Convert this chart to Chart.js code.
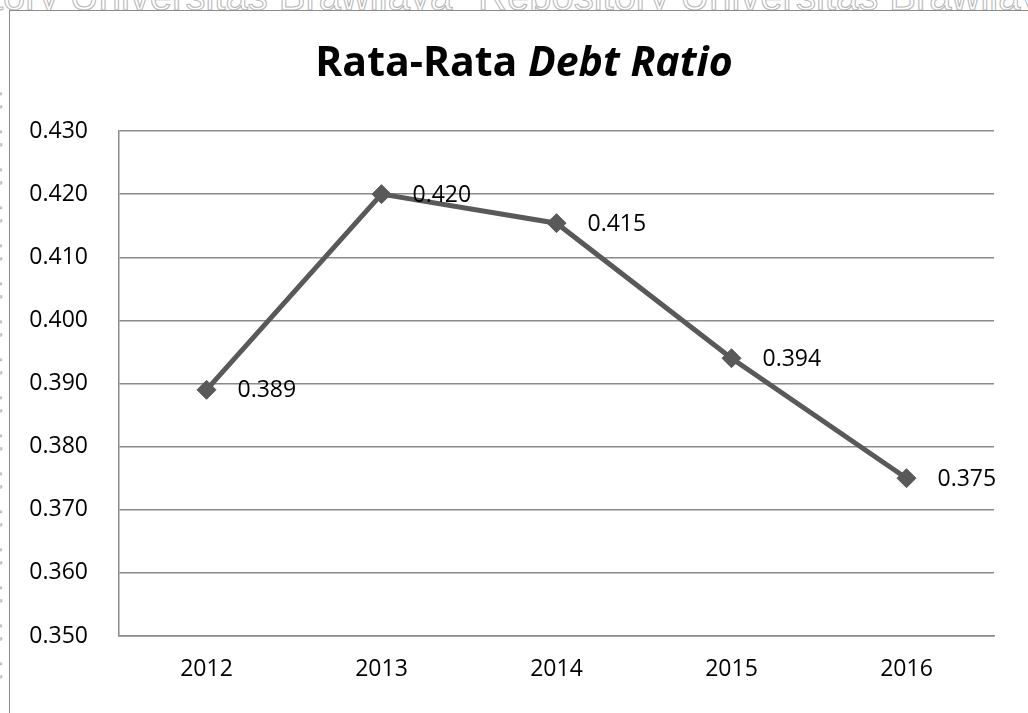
<!DOCTYPE html>
<html>
<head>
<meta charset="utf-8">
<script src="https://cdn.jsdelivr.net/npm/chart.js@4"></script>
<style>
  html, body { margin: 0; padding: 0; background: #fff; overflow: hidden; }
  body { width: 1028px; height: 713px; position: relative; }
  .wm {
    position: absolute; font-family: "Liberation Sans", Arial, sans-serif;
    font-size: 40px; line-height: 1; white-space: pre;
    color: transparent; -webkit-text-stroke: 1px #b4b4b4;
  }
  .frame {
    position: absolute; left: 9px; top: 10px; width: 1040px; height: 720px;
    border-left: 1.5px solid #8c8c8c; border-top: 1.5px solid #8c8c8c;
    background: #fff; z-index: 2;
  }
  .title {
    position: absolute; left: 0; top: 21px; width: 1028px; text-align: center;
    font-family: "Open Sans", sans-serif; font-weight: bold; font-size: 41px;
    color: #000; z-index: 3; pointer-events: none;
  }
  .box { position: absolute; left: 1px; top: 1px; width: 1028px; height: 702px; }
</style>
</head>
<body>
<div class="wm" style="left:-8px; top:-24px;">tory Universitas Brawijaya</div>
<div class="wm" style="left:478px; top:-24px;">Repository Universitas Brawijaya</div>
<div class="wm" style="left:-6px; top:80px; font-size:28px; line-height:38px;">t
t
t
t
t
t
t
t
t
t
t
t
t
t
t
t</div>
<div class="frame">
  <div class="title">Rata-Rata <i>Debt Ratio</i></div>
  <div class="box"><canvas id="chart"></canvas></div>
</div>
<script>
// data
const years = ["2012", "2013", "2014", "2015", "2016"];
const debtRatio = [0.389, 0.420, 0.4154, 0.394, 0.375];
const yMin = 0.35;
const yMax = 0.43;
const yStep = 0.01;

const FONT = "'Open Sans', sans-serif";
const GRID = "#8a8a8a";
const LINE = "#595959";

// value labels to the right of each marker
const valueLabels = {
  id: "valueLabels",
  afterDatasetsDraw(chart) {
    const ctx = chart.ctx;
    const meta = chart.getDatasetMeta(0);
    const vals = chart.data.datasets[0].data;
    ctx.save();
    ctx.font = "23px " + FONT;
    ctx.fillStyle = "#000";
    ctx.textAlign = "left";
    ctx.textBaseline = "middle";
    meta.data.forEach((pt, i) => {
      ctx.fillText(Number(vals[i]).toFixed(3), pt.x + 31, pt.y + 1);
    });
    ctx.restore();
  }
};

new Chart(document.getElementById("chart"), {
  type: "line",
  data: {
    labels: years,
    datasets: [
      {
        label: "Debt Ratio",
        data: debtRatio,
        borderColor: LINE,
        backgroundColor: LINE,
        borderWidth: 5,
        tension: 0,
        pointStyle: "rectRot",
        pointRadius: 9.5,
        pointBorderWidth: 1,
        pointBackgroundColor: LINE,
        pointBorderColor: LINE
      }
    ]
  },
  options: {
    responsive: true,
    maintainAspectRatio: false,
    animation: false,
    layout: { padding: { left: 15, right: 45, top: 119, bottom: 0 } },
    plugins: {
      legend: { display: false },
      title: { display: false },
      tooltip: { enabled: false }
    },
    scales: {
      x: {
        offset: true,
        grid: { display: false, drawTicks: false },
        border: { display: true, color: GRID, width: 1.5 },
        ticks: { color: "#000", font: { family: FONT, size: 23 }, padding: 20 },
        afterFit: (s) => { s.height = 78; }
      },
      y: {
        min: yMin,
        max: yMax,
        grid: { color: GRID, lineWidth: 1.5, drawTicks: false },
        border: { display: true, color: GRID, width: 1.5 },
        ticks: {
          stepSize: yStep,
          color: "#000",
          font: { family: FONT, size: 23 },
          padding: 31,
          callback: (v) => Number(v).toFixed(3)
        },
        afterFit: (s) => { s.width = 93; }
      }
    }
  },
  plugins: [valueLabels]
});
</script>
</body>
</html>
